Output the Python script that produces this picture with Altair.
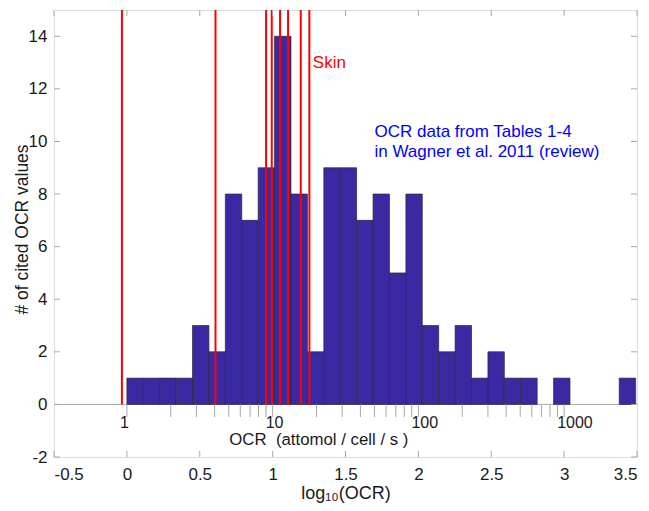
import altair as alt
import pandas as pd
import numpy as np

# ---- data ----
counts = [1, 1, 1, 1, 3, 2, 8, 7, 9, 14, 8, 2, 9, 9, 7, 8, 5, 8, 3, 2, 3, 1, 2, 1, 1, 0, 1, 0, 0, 0, 1]
bin_origin = 0.0
bin_width = 0.1126
red_lines = [-0.034, 0.608, 0.955, 0.994, 1.051, 1.106, 1.193, 1.252]
x_ticks = [-0.5, 0, 0.5, 1, 1.5, 2, 2.5, 3, 3.5]
y_ticks = [-2, 0, 2, 4, 6, 8, 10, 12, 14]
ocr_ticks = [1, 2, 3, 4, 5, 6, 7, 8, 9, 10, 20, 30, 40, 50, 60, 70, 80, 90,
             100, 200, 300, 400, 500, 600, 700, 800, 900, 1000]
ocr_labels = [1, 10, 100, 1000]
skin_label = "Skin"
note_lines = ["OCR data from Tables 1-4", "in Wagner et al. 2011 (review)"]
unit_label = "OCR\u00a0 (attomol / cell / s )"

W, H = 583, 447
FONT = "Liberation Sans"
GRAY = "#a8a8a8"
INK = "#1a1a1a"

bars = pd.DataFrame({
    "start": [bin_origin + i * bin_width for i in range(len(counts))],
    "end": [bin_origin + (i + 1) * bin_width for i in range(len(counts))],
    "count": counts,
})
bars = bars[bars["count"] > 0]
bars["base"] = 0

xs = alt.Scale(domain=[-0.5, 3.5], nice=False, zero=False)
ys = alt.Scale(domain=[-2, 15], nice=False, zero=False)

xaxis = alt.Axis(values=x_ticks, ticks=False, tickSize=0, domain=False, grid=False,
                 labelFontSize=17, labelPadding=9, labelExpr="'' + datum.value",
                 labelColor=INK, labelFont=FONT,
                 title="log\u2081\u2080(OCR)", titleFontSize=18, titleFontWeight="normal",
                 titleFont=FONT, titleColor=INK, titleBaseline="alphabetic", titleY=41)
yaxis = alt.Axis(values=y_ticks, ticks=False, tickSize=0, domain=False, grid=False,
                 labelFontSize=17, labelPadding=7, labelExpr="'' + datum.value",
                 labelColor=INK, labelFont=FONT,
                 title="# of cited OCR values", titleFontSize=17.5, titleFontWeight="normal",
                 titleFont=FONT, titleColor=INK, titleAngle=270, titleAlign="center",
                 titleBaseline="alphabetic", titleX=-27, titleY=219)

zero_line = alt.Chart(pd.DataFrame({"z": [0]})).mark_rule(color=GRAY, strokeWidth=1).encode(
    y=alt.Y("z:Q", scale=ys), x=alt.value(0), x2=alt.value(W))

hist = alt.Chart(bars).mark_rect(fill="#3b29a3", stroke="#2a2a3a", strokeWidth=0.7).encode(
    x=alt.X("start:Q", scale=xs, axis=xaxis),
    x2="end:Q",
    y=alt.Y("count:Q", scale=ys, axis=yaxis),
    y2="base:Q",
)

reds = alt.Chart(pd.DataFrame({"pos": red_lines, "top": 15, "bot": 0})).mark_rule(
    color="#ff0000", strokeWidth=2).encode(
    x=alt.X("pos:Q", scale=xs), y=alt.Y("top:Q", scale=ys), y2="bot:Q")

xt = pd.DataFrame({"v": x_ticks})
yt = pd.DataFrame({"v": y_ticks})
TL = 6
xt_bot = alt.Chart(xt).mark_rule(color=GRAY).encode(
    x=alt.X("v:Q", scale=xs), y=alt.value(H), y2=alt.value(H - TL))
xt_top = alt.Chart(xt).mark_rule(color=GRAY).encode(
    x=alt.X("v:Q", scale=xs), y=alt.value(0), y2=alt.value(TL))
yt_left = alt.Chart(yt).mark_rule(color=GRAY).encode(
    y=alt.Y("v:Q", scale=ys), x=alt.value(0), x2=alt.value(TL))
yt_right = alt.Chart(yt).mark_rule(color=GRAY).encode(
    y=alt.Y("v:Q", scale=ys), x=alt.value(W - TL), x2=alt.value(W))

lt = pd.DataFrame({"lv": np.log10(ocr_ticks), "y0": 0.0, "y1": -0.48})
log_ticks = alt.Chart(lt).mark_rule(color=GRAY).encode(
    x=alt.X("lv:Q", scale=xs), y=alt.Y("y0:Q", scale=ys), y2="y1:Q")

ll = pd.DataFrame({"lv": np.log10(ocr_labels), "label": [str(v) for v in ocr_labels], "y": -0.71})
log_labels = alt.Chart(ll).mark_text(align="left", dx=-7, baseline="middle", fontSize=16,
                                     font=FONT, color=INK).encode(
    x=alt.X("lv:Q", scale=xs), y=alt.Y("y:Q", scale=ys), text="label:N")

unit = alt.Chart(pd.DataFrame({"x": [1.317], "y": [-1.37], "t": [unit_label]})).mark_text(
    align="center", baseline="middle", fontSize=16.8, font=FONT, color=INK).encode(
    x=alt.X("x:Q", scale=xs), y=alt.Y("y:Q", scale=ys), text="t:N")

skin = alt.Chart(pd.DataFrame({"x": [1.276], "y": [12.97], "t": [skin_label]})).mark_text(
    align="left", baseline="middle", fontSize=17, font=FONT, color="#ff0000").encode(
    x=alt.X("x:Q", scale=xs), y=alt.Y("y:Q", scale=ys), text="t:N")

note = alt.Chart(pd.DataFrame({"x": [1.699, 1.699], "y": [10.35, 9.59], "t": note_lines})).mark_text(
    align="left", baseline="middle", fontSize=17, font=FONT, color="#0000ff").encode(
    x=alt.X("x:Q", scale=xs), y=alt.Y("y:Q", scale=ys), text="t:N")

chart = alt.layer(
    zero_line, hist, reds, xt_bot, xt_top, yt_left, yt_right, log_ticks, log_labels, unit, skin, note
).properties(
    width=W, height=H, autosize="none",
    padding={"left": 46, "top": 2, "right": 4, "bottom": 46},
).configure_view(stroke=GRAY, strokeWidth=1).configure(background="white")

chart.save("out.html", embed_options={"renderer": "svg", "actions": False})
